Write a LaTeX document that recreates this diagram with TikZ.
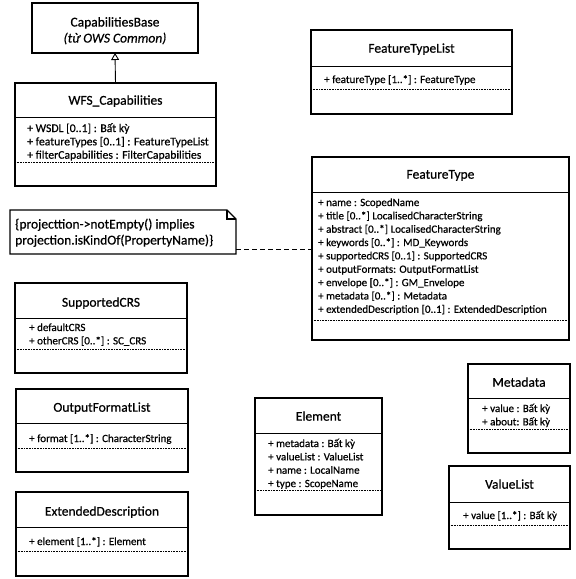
\documentclass[tikz,border=0pt]{standalone}
\usepackage{fontspec}
\setmainfont{Carlito}[FakeBold=0.6]
\usetikzlibrary{arrows.meta,calc}
\tikzset{
  x=1pt, y=-1pt,
  classbox/.style={draw, line width=1.1pt, rectangle, inner sep=0pt, outer sep=0pt, anchor=north west},
  sepline/.style={line width=0.9pt},
  dotline/.style={line width=0.6pt, dash pattern=on 0.8pt off 0.8pt},
  classtitle/.style={font=\fontsize{13.5}{16}\selectfont, inner sep=0pt, anchor=base},
  attr/.style={font=\fontsize{11}{13}\selectfont, inner sep=0pt, anchor=base west},
  bigattr/.style={font=\fontsize{11.7}{14}\selectfont},
  notetext/.style={font=\fontsize{13.5}{16}\selectfont, inner sep=0pt, anchor=base west},
  notebox/.style={line width=1.1pt},
  notelink/.style={line width=0.9pt, dash pattern=on 5pt off 3pt},
  genarrow/.style={line width=0.9pt, -{Triangle[open, length=7pt, width=8pt, line width=0.9pt]}},
}
% name, x1, y1, x2, y2, separator y, dotted y
\newcommand{\umlclass}[7]{%
  \node[classbox, minimum width={(#4-#2)*1pt}, minimum height={(#5-#3)*1pt}] (#1) at (#2,#3) {};
  \draw[sepline] (#2,#6) -- (#4,#6);
  \draw[dotline] (#2+1.5,#7) -- (#4-1.5,#7);
}
% [extra style] name, x, first line centre y, list
\newcommand{\umlattrs}[5][]{%
  \foreach \t [count=\i] in {#5} {
    \node[attr,#1] (#2-a\i) at (#3, {#4+4+(\i-1)*13.35}) {\t};
  }
}
\begin{document}
\begin{tikzpicture}
\useasboundingbox (0,0) rectangle (576,579);

% CapabilitiesBase
\node[classbox, minimum width=166pt, minimum height=50pt] (cb) at (32,3) {};
\node[classtitle] (cb-t) at (115,26.5) {CapabilitiesBase};
\node[classtitle] (cb-s) at (115,42.5) {\itshape (từ OWS Common)};

% WFS_Capabilities
\umlclass{wfs}{15}{83}{216}{186}{117}{162}
\node[classtitle] (wfs-t) at (115.5,104.7) {WFS\_Capabilities};
\umlattrs[bigattr]{wfs}{27}{128}{+ WSDL [0..1] : Bất kỳ, + featureTypes [0..1] : FeatureTypeList, + filterCapabilities : FilterCapabilities}

\draw[genarrow] (wfs.north) -- (cb.south);

% FeatureTypeList
\umlclass{ftl}{311}{30}{512}{114}{66}{89}
\node[classtitle] (ftl-t) at (411.5,52.7) {FeatureTypeList};
\umlattrs{ftl}{324}{79}{+ featureType [1..*] : FeatureType}

% FeatureType
\umlclass{ft}{312}{157}{569}{340}{192}{320}
\node[classtitle] (ft-t) at (440.5,178.7) {FeatureType};
\umlattrs{ft}{318}{202}{+ name : ScopedName, + title [0..*] LocalisedCharacterString, + abstract [0..*] LocalisedCharacterString, + keywords [0..*] : MD\_Keywords, + supportedCRS [0..1] : SupportedCRS, + outputFormats: OutputFormatList, + envelope [0..*] : GM\_Envelope, + metadata [0..*] : Metadata, + extendedDescription [0..1] : ExtendedDescription}

% Note
\node[inner sep=0pt, outer sep=0pt, anchor=north west, minimum width=226pt, minimum height=44pt] (note) at (10,210) {};
\draw[notebox] (note.north west) -- ([xshift=-9pt]note.north east) -- ([yshift=-9pt]note.north east) -- (note.south east) -- (note.south west) -- cycle;
\draw[notebox] ([xshift=-9pt]note.north east) -- ([xshift=-9pt,yshift=-9pt]note.north east) -- ([yshift=-9pt]note.north east);
\node[notetext] (note-l1) at (15,228.5) {\{projecttion->notEmpty() implies};
\node[notetext] (note-l2) at (15,244.5) {projection.isKindOf(PropertyName)\}};
\draw[notelink] ([yshift=5pt]note.south east) -- ([yshift=5pt]note.south east -| ft.west);

% SupportedCRS
\umlclass{scrs}{15}{283}{187}{373}{318}{349}
\node[classtitle] (scrs-t) at (101,306.7) {SupportedCRS};
\umlattrs{scrs}{29}{327}{+ defaultCRS, + otherCRS [0..*] : SC\_CRS}

% OutputFormatList
\umlclass{ofl}{16}{389}{188}{472}{423}{448}
\node[classtitle] (ofl-t) at (102,411.7) {OutputFormatList};
\umlattrs{ofl}{29}{438}{+ format [1..*] : CharacterString}

% ExtendedDescription
\umlclass{ed}{16}{492}{188}{576}{527}{551}
\node[classtitle] (ed-t) at (102,515.7) {ExtendedDescription};
\umlattrs{ed}{29}{541}{+ element [1..*] : Element}

% Element
\umlclass{el}{255}{398}{382}{515}{433}{490}
\node[classtitle] (el-t) at (318.5,420.7) {Element};
\umlattrs{el}{268}{443}{+ metadata : Bất kỳ, + valueList : ValueList, + name : LocalName, + type : ScopeName}

% Metadata
\umlclass{md}{468}{364}{570}{453}{398}{429}
\node[classtitle] (md-t) at (519,386.7) {Metadata};
\umlattrs{md}{482}{408}{+ value : Bất kỳ, + about: Bất kỳ}

% ValueList
\umlclass{vl}{449}{466}{570}{549}{502}{525}
\node[classtitle] (vl-t) at (509.5,488.7) {ValueList};
\umlattrs{vl}{463}{515}{+ value [1..*] : Bất kỳ}

\end{tikzpicture}
\end{document}
